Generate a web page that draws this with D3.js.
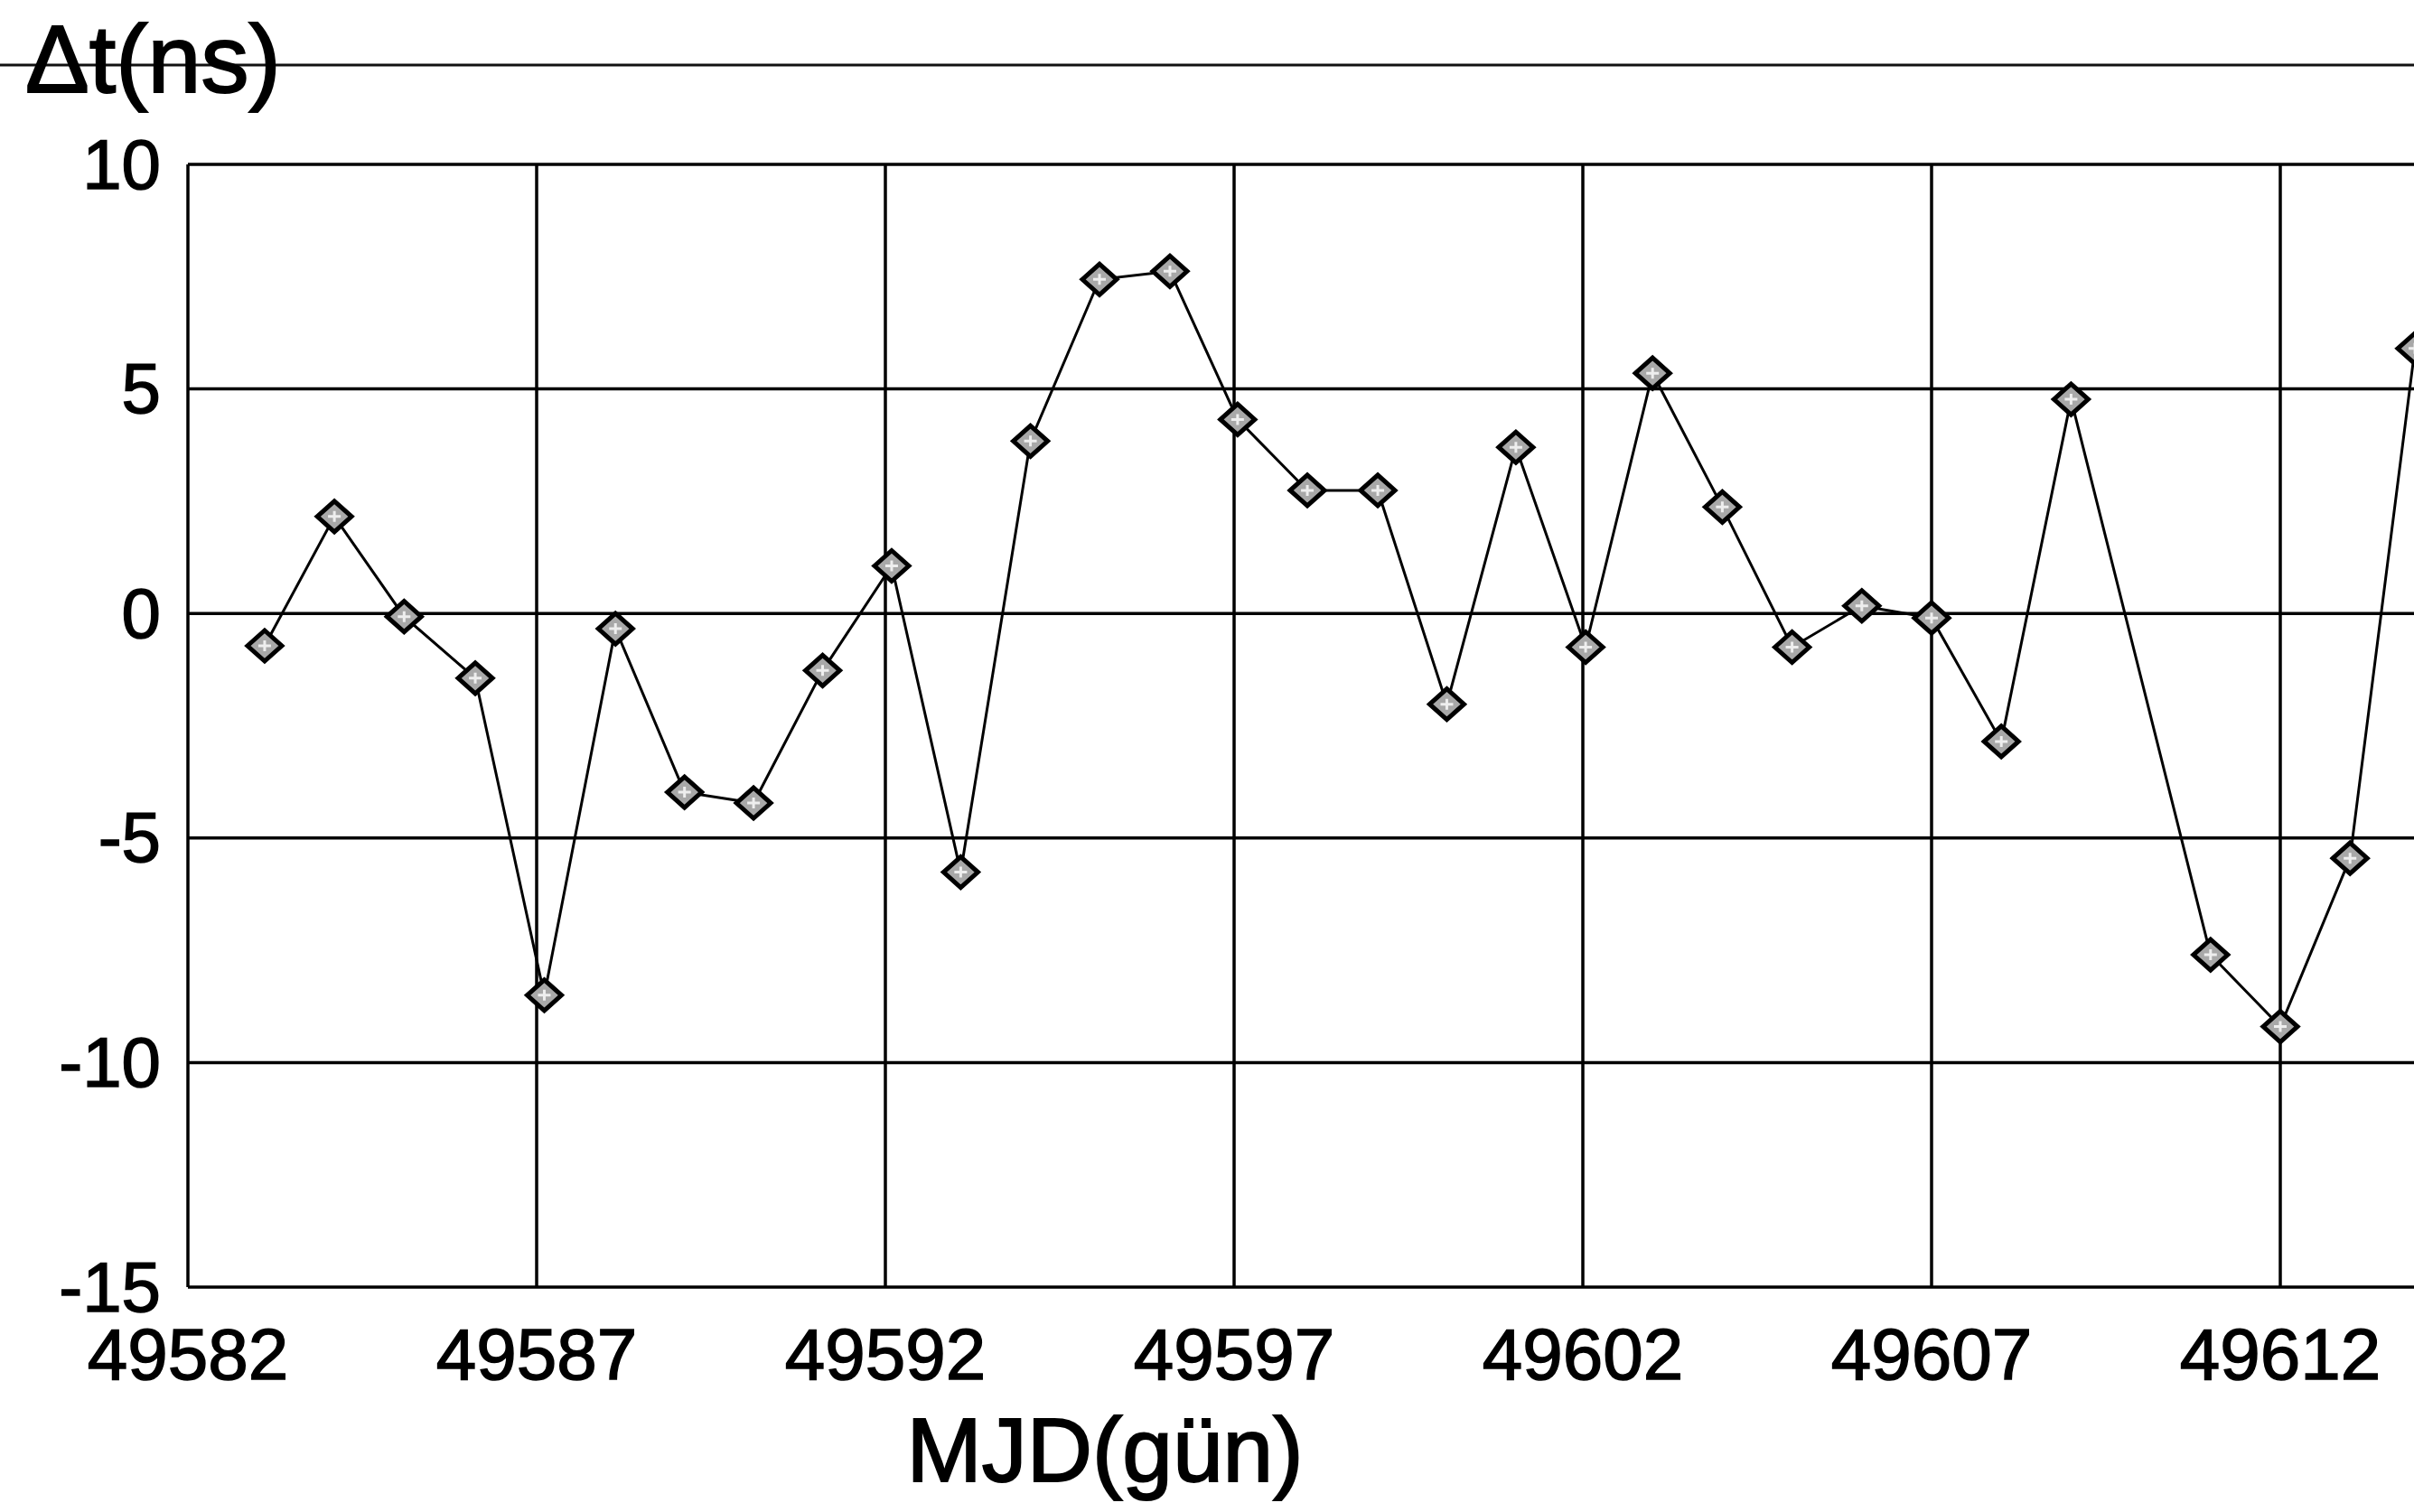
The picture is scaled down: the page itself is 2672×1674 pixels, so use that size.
<!DOCTYPE html>
<html>
<head>
<meta charset="utf-8">
<script src="https://cdnjs.cloudflare.com/ajax/libs/d3/7.8.5/d3.min.js"></script>
<style>
  html, body { margin: 0; padding: 0; background: #fff; }
  text { font-family: "Liberation Sans", Arial, sans-serif; fill: #000; }
</style>
</head>
<body>
<svg id="chart"></svg>
<script>
// MJD days and time differences (ns)
const mjd = [49583.1, 49584.1, 49585.1, 49586.12, 49587.11, 49588.13, 49589.12, 49590.11,
  49591.1, 49592.09, 49593.08, 49594.08, 49595.07, 49596.08, 49597.05, 49598.05,
  49599.06, 49600.05, 49601.04, 49602.04, 49603.0, 49604.0, 49605.0, 49606.0,
  49607.0, 49608.0, 49609.0, 49611.0, 49612.0, 49613.0, 49613.93];
const dt = [-0.72, 2.16, -0.07, -1.44, -8.5, -0.34, -3.98, -4.22,
  -1.27, 1.06, -5.76, 3.84, 7.44, 7.62, 4.32, 2.74,
  2.74, -2.02, 3.7, -0.75, 5.35, 2.37, -0.75, 0.17,
  -0.1, -2.85, 4.77, -7.6, -9.2, -5.45, 5.9];
const xTicks = [49582, 49587, 49592, 49597, 49602, 49607, 49612];
const yTicks = [-15, -10, -5, 0, 5, 10];

const width = 2672;
const height = 1674;
const svg = d3.select("#chart")
  .attr('width', width)
  .attr('height', height);

const plotLeft = 208, plotTop = 182, plotBottom = 1425;

// plot runs off the right edge of the page in the scan
const x = d3.scaleLinear().domain([49582, 49612]).range([plotLeft, 2524]);
const y = d3.scaleLinear().domain([-15, 10]).range([plotBottom, plotTop]);

// stray frame line across the top of the scan
svg.append('line')
  .attr('x1', 0).attr('x2', width)
  .attr('y1', 72).attr('y2', 72)
  .attr('stroke', '#111').attr('stroke-width', 3);

// horizontal grid (also the top and bottom frame)
svg.append('g')
  .selectAll('line')
  .data(yTicks)
  .enter().append('line')
    .attr('x1', plotLeft).attr('x2', width)
    .attr('y1', d => y(d)).attr('y2', d => y(d))
    .attr('stroke', '#000')
    .attr('stroke-width', 3.5);

// vertical grid
svg.append('g')
  .selectAll('line')
  .data(xTicks)
  .enter().append('line')
    .attr('x1', d => x(d)).attr('x2', d => x(d))
    .attr('y1', plotTop).attr('y2', plotBottom)
    .attr('stroke', '#000')
    .attr('stroke-width', 3.5);

// y tick labels
svg.append('g')
  .selectAll('text')
  .data(yTicks)
  .enter().append('text')
    .attr('x', 178)
    .attr('y', d => y(d))
    .attr('dy', '0.34em')
    .attr('text-anchor', 'end')
    .attr('font-size', 78)
    .attr('stroke', '#000').attr('stroke-width', 1.5)
    .text(d => d);

// x tick labels
svg.append('g')
  .selectAll('text')
  .data(xTicks)
  .enter().append('text')
    .attr('x', d => x(d))
    .attr('y', 1527)
    .attr('text-anchor', 'middle')
    .attr('font-size', 80)
    .attr('stroke', '#000').attr('stroke-width', 1.5)
    .text(d => d);

// axis titles
svg.append('text')
  .attr('x', 28).attr('y', 102)
  .attr('font-size', 106)
  .attr('stroke', '#000').attr('stroke-width', 2)
  .text('\u0394t(ns)');

svg.append('text')
  .attr('x', 1223).attr('y', 1640)
  .attr('text-anchor', 'middle')
  .attr('font-size', 100)
  .attr('stroke', '#000').attr('stroke-width', 2)
  .text('MJD(gün)');

const points = mjd.map((d, i) => ({ t: d, v: dt[i] }));

// connecting line
const line = d3.line()
  .x(d => x(d.t))
  .y(d => y(d.v));

svg.append('path')
  .datum(points)
  .attr('d', line)
  .attr('fill', 'none')
  .attr('stroke', '#000')
  .attr('stroke-width', 3);

// diamond markers
const marks = svg.append('g')
  .selectAll('g')
  .data(points)
  .enter().append('g')
    .attr('transform', d => `translate(${x(d.t)},${y(d.v)})`);

marks.append('path')
  .attr('d', 'M-19,0L0,-17L19,0L0,17Z')
  .attr('fill', '#a8a8a8')
  .attr('stroke', '#000')
  .attr('stroke-width', 5);

marks.append('path')
  .attr('d', 'M-7,0H7M0,-6V6')
  .attr('stroke', '#eee')
  .attr('stroke-width', 3);
</script>
</body>
</html>
